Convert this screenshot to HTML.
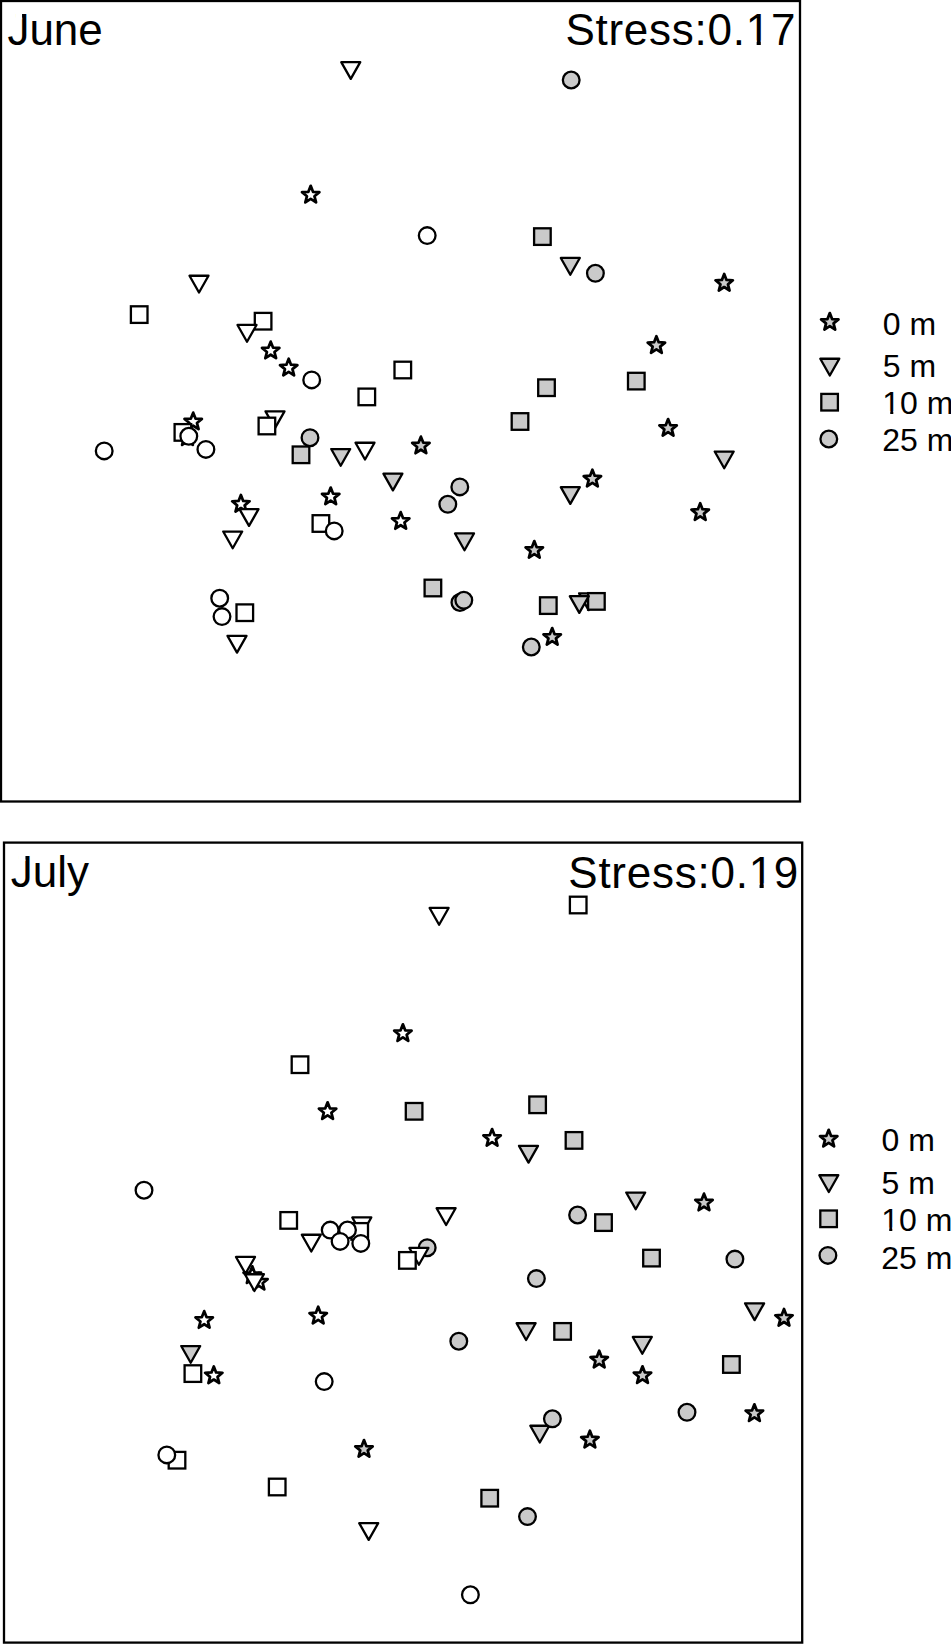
<!DOCTYPE html>
<html><head><meta charset="utf-8"><title>NMDS June July</title>
<style>
html,body{margin:0;padding:0;background:#fff;}
body{width:951px;height:1644px;overflow:hidden;}
svg{display:block;}
svg circle, svg rect, svg polygon{stroke:#000;stroke-width:2.3;stroke-linejoin:round;}
svg polygon.s{stroke-width:2.75;}
svg rect{stroke-linejoin:miter;}
svg rect.m{fill:#fff;stroke:none;}
svg text{font-family:"Liberation Sans",Arial,sans-serif;fill:#000;stroke:none;}
.tt{font-size:44px;}
.lg{font-size:32px;}
.st{letter-spacing:0.75px;}
</style></head>
<body>
<svg width="951" height="1644" viewBox="0 0 951 1644">
<rect x="1" y="1" width="799" height="800.5" fill="none" stroke="#000" stroke-width="2.2"/>
<rect x="4" y="842.6" width="798.2" height="800" fill="none" stroke="#000" stroke-width="2.2"/>
<polygon class="s" points="310.7,185.85 313.01,191.82 319.4,192.17 314.44,196.22 316.08,202.4 310.7,198.93 305.32,202.4 306.96,196.22 302,192.17 308.39,191.82" fill="#fff"/>
<polygon class="s" points="724.2,273.95 726.51,279.92 732.9,280.27 727.94,284.32 729.58,290.5 724.2,287.03 718.82,290.5 720.46,284.32 715.5,280.27 721.89,279.92" fill="#cacaca"/>
<polygon class="s" points="656.4,336.25 658.71,342.22 665.1,342.57 660.14,346.62 661.78,352.8 656.4,349.33 651.02,352.8 652.66,346.62 647.7,342.57 654.09,342.22" fill="#cacaca"/>
<polygon class="s" points="270.7,341.65 273.01,347.62 279.4,347.97 274.44,352.02 276.08,358.2 270.7,354.73 265.32,358.2 266.96,352.02 262,347.97 268.39,347.62" fill="#fff"/>
<polygon class="s" points="288.7,358.75 291.01,364.72 297.4,365.07 292.44,369.12 294.08,375.3 288.7,371.83 283.32,375.3 284.96,369.12 280,365.07 286.39,364.72" fill="#fff"/>
<polygon class="s" points="193.2,412.65 195.51,418.62 201.9,418.97 196.94,423.02 198.58,429.2 193.2,425.73 187.82,429.2 189.46,423.02 184.5,418.97 190.89,418.62" fill="#fff"/>
<polygon class="s" points="187.5,428.35 189.81,434.32 196.2,434.67 191.24,438.72 192.88,444.9 187.5,441.43 182.12,444.9 183.76,438.72 178.8,434.67 185.19,434.32" fill="#fff"/>
<polygon class="s" points="420.9,436.65 423.21,442.62 429.6,442.97 424.64,447.02 426.28,453.2 420.9,449.73 415.52,453.2 417.16,447.02 412.2,442.97 418.59,442.62" fill="#cacaca"/>
<polygon class="s" points="668.1,419.05 670.41,425.02 676.8,425.37 671.84,429.42 673.48,435.6 668.1,432.13 662.72,435.6 664.36,429.42 659.4,425.37 665.79,425.02" fill="#cacaca"/>
<polygon class="s" points="592.4,469.75 594.71,475.72 601.1,476.07 596.14,480.12 597.78,486.3 592.4,482.83 587.02,486.3 588.66,480.12 583.7,476.07 590.09,475.72" fill="#cacaca"/>
<polygon class="s" points="330.7,487.55 333.01,493.52 339.4,493.87 334.44,497.92 336.08,504.1 330.7,500.63 325.32,504.1 326.96,497.92 322,493.87 328.39,493.52" fill="#fff"/>
<polygon class="s" points="240.9,494.95 243.21,500.92 249.6,501.27 244.64,505.32 246.28,511.5 240.9,508.03 235.52,511.5 237.16,505.32 232.2,501.27 238.59,500.92" fill="#fff"/>
<polygon class="s" points="400.7,512.15 403.01,518.12 409.4,518.47 404.44,522.52 406.08,528.7 400.7,525.23 395.32,528.7 396.96,522.52 392,518.47 398.39,518.12" fill="#fff"/>
<polygon class="s" points="700.2,503.25 702.51,509.22 708.9,509.57 703.94,513.62 705.58,519.8 700.2,516.33 694.82,519.8 696.46,513.62 691.5,509.57 697.89,509.22" fill="#cacaca"/>
<polygon class="s" points="534.3,541.05 536.61,547.02 543,547.37 538.04,551.42 539.68,557.6 534.3,554.13 528.92,557.6 530.56,551.42 525.6,547.37 531.99,547.02" fill="#cacaca"/>
<polygon class="s" points="552.2,628.05 554.51,634.02 560.9,634.37 555.94,638.42 557.58,644.6 552.2,641.13 546.82,644.6 548.46,638.42 543.5,634.37 549.89,634.02" fill="#cacaca"/>
<polygon points="341.25,62.15 360.25,62.15 350.75,78.9" fill="#fff"/>
<polygon points="560.8,257.95 579.8,257.95 570.3,274.7" fill="#cacaca"/>
<polygon points="189.5,275.75 208.5,275.75 199,292.5" fill="#fff"/>
<polygon points="265.5,411.35 284.5,411.35 275,428.1" fill="#fff"/>
<polygon points="331.2,449.05 350.2,449.05 340.7,465.8" fill="#cacaca"/>
<polygon points="355.5,442.75 374.5,442.75 365,459.5" fill="#fff"/>
<polygon points="383.4,473.65 402.4,473.65 392.9,490.4" fill="#cacaca"/>
<polygon points="239.5,509.15 258.5,509.15 249,525.9" fill="#fff"/>
<polygon points="223.2,531.55 242.2,531.55 232.7,548.3" fill="#fff"/>
<polygon points="455,533.45 474,533.45 464.5,550.2" fill="#cacaca"/>
<polygon points="560.8,487.15 579.8,487.15 570.3,503.9" fill="#cacaca"/>
<polygon points="714.7,451.55 733.7,451.55 724.2,468.3" fill="#cacaca"/>
<polygon points="227.5,635.85 246.5,635.85 237,652.6" fill="#fff"/>
<polygon points="579.1,593.35 598.1,593.35 588.6,610.1" fill="#cacaca"/>
<rect x="130.9" y="306.3" width="16.6" height="16.6" fill="#fff"/>
<rect x="254.8" y="312.9" width="16.6" height="16.6" fill="#fff"/>
<rect x="394.5" y="361.7" width="16.6" height="16.6" fill="#fff"/>
<rect x="358.5" y="388.6" width="16.6" height="16.6" fill="#fff"/>
<rect x="258.6" y="417.7" width="16.6" height="16.6" fill="#fff"/>
<rect x="174.6" y="424.1" width="16.6" height="16.6" fill="#fff"/>
<rect x="534.1" y="228.3" width="16.6" height="16.6" fill="#cacaca"/>
<rect x="538.2" y="379.4" width="16.6" height="16.6" fill="#cacaca"/>
<rect x="628" y="372.8" width="16.6" height="16.6" fill="#cacaca"/>
<rect x="511.7" y="413.2" width="16.6" height="16.6" fill="#cacaca"/>
<rect x="312.6" y="515.2" width="16.6" height="16.6" fill="#fff"/>
<rect x="236.5" y="604.4" width="16.6" height="16.6" fill="#fff"/>
<rect x="424.6" y="579.7" width="16.6" height="16.6" fill="#cacaca"/>
<rect x="540" y="597.3" width="16.6" height="16.6" fill="#cacaca"/>
<rect x="588.1" y="593.1" width="16.6" height="16.6" fill="#cacaca"/>
<polygon points="237.5,324.95 256.5,324.95 247,341.7" fill="#fff"/>
<polygon points="569.8,596.15 588.8,596.15 579.3,612.9" fill="#cacaca"/>
<circle cx="571.2" cy="80" r="8.35" fill="#cacaca"/>
<circle cx="427.2" cy="235.6" r="8.35" fill="#fff"/>
<circle cx="595.4" cy="273.3" r="8.35" fill="#cacaca"/>
<circle cx="311.7" cy="379.9" r="8.35" fill="#fff"/>
<circle cx="104.2" cy="450.9" r="8.35" fill="#fff"/>
<circle cx="188.8" cy="436.3" r="8.35" fill="#fff"/>
<circle cx="205.9" cy="449.4" r="8.35" fill="#fff"/>
<circle cx="459.8" cy="486.9" r="8.35" fill="#cacaca"/>
<circle cx="447.8" cy="504.3" r="8.35" fill="#cacaca"/>
<circle cx="334.2" cy="530.9" r="8.35" fill="#fff"/>
<circle cx="219.7" cy="598.2" r="8.35" fill="#fff"/>
<circle cx="222" cy="616.6" r="8.35" fill="#fff"/>
<circle cx="459.9" cy="602.5" r="8.35" fill="#cacaca"/>
<circle cx="463.8" cy="600.3" r="8.35" fill="#cacaca"/>
<circle cx="531.3" cy="647" r="8.35" fill="#cacaca"/>
<rect x="292.7" y="446.5" width="16.6" height="16.6" fill="#cacaca"/>
<circle cx="310" cy="437.7" r="8.35" fill="#cacaca"/>
<polygon class="s" points="402.9,1024.35 405.21,1030.32 411.6,1030.67 406.64,1034.72 408.28,1040.9 402.9,1037.43 397.52,1040.9 399.16,1034.72 394.2,1030.67 400.59,1030.32" fill="#fff"/>
<polygon class="s" points="327.6,1102.35 329.91,1108.32 336.3,1108.67 331.34,1112.72 332.98,1118.9 327.6,1115.43 322.22,1118.9 323.86,1112.72 318.9,1108.67 325.29,1108.32" fill="#fff"/>
<polygon class="s" points="492.1,1129.05 494.41,1135.02 500.8,1135.37 495.84,1139.42 497.48,1145.6 492.1,1142.13 486.72,1145.6 488.36,1139.42 483.4,1135.37 489.79,1135.02" fill="#fff"/>
<polygon class="s" points="204.2,1311.15 206.51,1317.12 212.9,1317.47 207.94,1321.52 209.58,1327.7 204.2,1324.23 198.82,1327.7 200.46,1321.52 195.5,1317.47 201.89,1317.12" fill="#fff"/>
<polygon class="s" points="318.2,1306.75 320.51,1312.72 326.9,1313.07 321.94,1317.12 323.58,1323.3 318.2,1319.83 312.82,1323.3 314.46,1317.12 309.5,1313.07 315.89,1312.72" fill="#fff"/>
<polygon class="s" points="704,1193.65 706.31,1199.62 712.7,1199.97 707.74,1204.02 709.38,1210.2 704,1206.73 698.62,1210.2 700.26,1204.02 695.3,1199.97 701.69,1199.62" fill="#cacaca"/>
<polygon class="s" points="784,1308.95 786.31,1314.92 792.7,1315.27 787.74,1319.32 789.38,1325.5 784,1322.03 778.62,1325.5 780.26,1319.32 775.3,1315.27 781.69,1314.92" fill="#cacaca"/>
<polygon class="s" points="599.2,1350.75 601.51,1356.72 607.9,1357.07 602.94,1361.12 604.58,1367.3 599.2,1363.83 593.82,1367.3 595.46,1361.12 590.5,1357.07 596.89,1356.72" fill="#cacaca"/>
<polygon class="s" points="642.5,1366.35 644.81,1372.32 651.2,1372.67 646.24,1376.72 647.88,1382.9 642.5,1379.43 637.12,1382.9 638.76,1376.72 633.8,1372.67 640.19,1372.32" fill="#cacaca"/>
<polygon class="s" points="754.4,1404.35 756.71,1410.32 763.1,1410.67 758.14,1414.72 759.78,1420.9 754.4,1417.43 749.02,1420.9 750.66,1414.72 745.7,1410.67 752.09,1410.32" fill="#cacaca"/>
<polygon class="s" points="364,1440.05 366.31,1446.02 372.7,1446.37 367.74,1450.42 369.38,1456.6 364,1453.13 358.62,1456.6 360.26,1450.42 355.3,1446.37 361.69,1446.02" fill="#cacaca"/>
<polygon class="s" points="589.9,1430.75 592.21,1436.72 598.6,1437.07 593.64,1441.12 595.28,1447.3 589.9,1443.83 584.52,1447.3 586.16,1441.12 581.2,1437.07 587.59,1436.72" fill="#cacaca"/>
<polygon points="429.6,907.95 448.6,907.95 439.1,924.7" fill="#fff"/>
<polygon points="436.6,1208.25 455.6,1208.25 446.1,1225" fill="#fff"/>
<polygon points="359.2,1523.15 378.2,1523.15 368.7,1539.9" fill="#fff"/>
<polygon points="519,1145.85 538,1145.85 528.5,1162.6" fill="#cacaca"/>
<polygon points="626.2,1192.55 645.2,1192.55 635.7,1209.3" fill="#cacaca"/>
<polygon points="745.1,1303.35 764.1,1303.35 754.6,1320.1" fill="#cacaca"/>
<polygon points="516.6,1323.25 535.6,1323.25 526.1,1340" fill="#cacaca"/>
<polygon points="632.8,1336.95 651.8,1336.95 642.3,1353.7" fill="#cacaca"/>
<polygon points="530.3,1425.75 549.3,1425.75 539.8,1442.5" fill="#cacaca"/>
<rect x="569.9" y="896.7" width="16.6" height="16.6" fill="#fff"/>
<rect x="291.7" y="1056.4" width="16.6" height="16.6" fill="#fff"/>
<rect x="280.4" y="1212.1" width="16.6" height="16.6" fill="#fff"/>
<polygon points="352.3,1217.45 371.3,1217.45 361.8,1234.2" fill="#fff"/>
<rect x="351.4" y="1223.1" width="16.6" height="16.6" fill="#fff"/>
<polygon points="301.8,1234.75 320.8,1234.75 311.3,1251.5" fill="#fff"/>
<rect x="268.9" y="1478.7" width="16.6" height="16.6" fill="#fff"/>
<rect x="405.8" y="1103" width="16.6" height="16.6" fill="#cacaca"/>
<rect x="529.3" y="1096.5" width="16.6" height="16.6" fill="#cacaca"/>
<rect x="565.7" y="1132.1" width="16.6" height="16.6" fill="#cacaca"/>
<rect x="595.2" y="1214.3" width="16.6" height="16.6" fill="#cacaca"/>
<rect x="643.2" y="1249.8" width="16.6" height="16.6" fill="#cacaca"/>
<rect x="554.3" y="1323.1" width="16.6" height="16.6" fill="#cacaca"/>
<rect x="723.1" y="1356.2" width="16.6" height="16.6" fill="#cacaca"/>
<rect x="481.4" y="1489.9" width="16.6" height="16.6" fill="#cacaca"/>
<circle cx="144" cy="1190.2" r="8.35" fill="#fff"/>
<circle cx="330.2" cy="1230.1" r="8.35" fill="#fff"/>
<circle cx="347.5" cy="1230" r="8.35" fill="#fff"/>
<circle cx="340.1" cy="1241.4" r="8.35" fill="#fff"/>
<circle cx="360.8" cy="1243.4" r="8.35" fill="#fff"/>
<circle cx="324.2" cy="1381.6" r="8.35" fill="#fff"/>
<rect x="168.7" y="1451.9" width="16.6" height="16.6" fill="#fff"/>
<circle cx="166.8" cy="1454.9" r="8.35" fill="#fff"/>
<circle cx="470.4" cy="1594.8" r="8.35" fill="#fff"/>
<circle cx="427.2" cy="1247.7" r="8.35" fill="#cacaca"/>
<polygon points="409.4,1247.95 428.4,1247.95 418.9,1264.7" fill="#fff"/>
<rect x="399.1" y="1252.1" width="16.6" height="16.6" fill="#fff"/>
<circle cx="577.6" cy="1215" r="8.35" fill="#cacaca"/>
<circle cx="536.4" cy="1278.6" r="8.35" fill="#cacaca"/>
<circle cx="734.9" cy="1259.1" r="8.35" fill="#cacaca"/>
<circle cx="458.8" cy="1341.2" r="8.35" fill="#cacaca"/>
<circle cx="552.4" cy="1418.8" r="8.35" fill="#cacaca"/>
<circle cx="687" cy="1412.3" r="8.35" fill="#cacaca"/>
<circle cx="527.5" cy="1516.6" r="8.35" fill="#cacaca"/>
<polygon points="236,1256.95 255,1256.95 245.5,1273.7" fill="#fff"/>
<polygon class="s" points="252.3,1266.35 254.61,1272.32 261,1272.67 256.04,1276.72 257.68,1282.9 252.3,1279.43 246.92,1282.9 248.56,1276.72 243.6,1272.67 249.99,1272.32" fill="#fff"/>
<polygon class="s" points="258.9,1272.85 261.21,1278.82 267.6,1279.17 262.64,1283.22 264.28,1289.4 258.9,1285.93 253.52,1289.4 255.16,1283.22 250.2,1279.17 256.59,1278.82" fill="#fff"/>
<polygon points="244.9,1274.25 263.9,1274.25 254.4,1291" fill="#fff"/>
<polygon points="181.2,1346.05 200.2,1346.05 190.7,1362.8" fill="#cacaca"/>
<rect x="184.6" y="1365.3" width="16.6" height="16.6" fill="#fff"/>
<polygon class="s" points="213.8,1366.45 216.11,1372.42 222.5,1372.77 217.54,1376.82 219.18,1383 213.8,1379.53 208.42,1383 210.06,1376.82 205.1,1372.77 211.49,1372.42" fill="#fff"/>
<g transform="translate(7.4,45.3) scale(1,1.02)"><text id="t1" x="0" y="0" class="tt">June</text><rect class="m" x="8.03" y="-32.77" width="6.62" height="7.35"/></g>
<g transform="translate(565.4,44.9) scale(1,1.02)"><text id="t2" x="0" y="0" class="tt st">Stress:0.17</text><rect class="m" x="182.17" y="-4.29" width="9.09" height="5.29"/><rect class="m" x="195.4" y="-4.29" width="8.75" height="5.29"/></g>
<g transform="translate(10.8,886.6) scale(1,1.02)"><text id="t3" x="0" y="0" class="tt">July</text><rect class="m" x="8.03" y="-32.77" width="6.62" height="7.35"/></g>
<g transform="translate(568.3,887.7) scale(1,1.02)"><text id="t4" x="0" y="0" class="tt st">Stress:0.19</text><rect class="m" x="182.17" y="-4.29" width="9.09" height="5.29"/><rect class="m" x="195.4" y="-4.29" width="8.75" height="5.29"/></g>
<polygon class="s" points="829.8,313.05 832.11,319.02 838.5,319.37 833.54,323.42 835.18,329.6 829.8,326.13 824.42,329.6 826.06,323.42 821.1,319.37 827.49,319.02" fill="#cacaca"/>
<polygon points="820.3,358.75 839.3,358.75 829.8,375.5" fill="#cacaca"/>
<rect x="821.3" y="393.9" width="16.6" height="16.6" fill="#cacaca"/>
<circle cx="828.8" cy="439" r="8.35" fill="#cacaca"/>
<g transform="translate(882.8,335) scale(1,1)"><text id="t5" x="0" y="0" class="lg">0&#160;m</text></g>
<g transform="translate(882.8,377.2) scale(1,1)"><text id="t6" x="0" y="0" class="lg">5&#160;m</text></g>
<g transform="translate(882.3,414.4) scale(1,1)"><text id="t7" x="0" y="0" class="lg">10&#160;m</text><rect class="m" x="0.94" y="-3.39" width="6.99" height="4.39"/><rect class="m" x="10.99" y="-3.39" width="6.74" height="4.39"/></g>
<g transform="translate(882.3,451.2) scale(1,1)"><text id="t8" x="0" y="0" class="lg">25&#160;m</text></g>
<polygon class="s" points="828.7,1129.85 831.01,1135.82 837.4,1136.17 832.44,1140.22 834.08,1146.4 828.7,1142.93 823.32,1146.4 824.96,1140.22 820,1136.17 826.39,1135.82" fill="#cacaca"/>
<polygon points="819.3,1175.25 838.3,1175.25 828.8,1192" fill="#cacaca"/>
<rect x="820.3" y="1210.5" width="16.6" height="16.6" fill="#cacaca"/>
<circle cx="827.9" cy="1255.4" r="8.35" fill="#cacaca"/>
<g transform="translate(881.6,1150.9) scale(1,1)"><text id="t9" x="0" y="0" class="lg">0&#160;m</text></g>
<g transform="translate(881.6,1193.6) scale(1,1)"><text id="t10" x="0" y="0" class="lg">5&#160;m</text></g>
<g transform="translate(881.3,1230.9) scale(1,1)"><text id="t11" x="0" y="0" class="lg">10&#160;m</text><rect class="m" x="0.94" y="-3.39" width="6.99" height="4.39"/><rect class="m" x="10.99" y="-3.39" width="6.74" height="4.39"/></g>
<g transform="translate(881.3,1268.5) scale(1,1)"><text id="t12" x="0" y="0" class="lg">25&#160;m</text></g>
</svg>
</body></html>
